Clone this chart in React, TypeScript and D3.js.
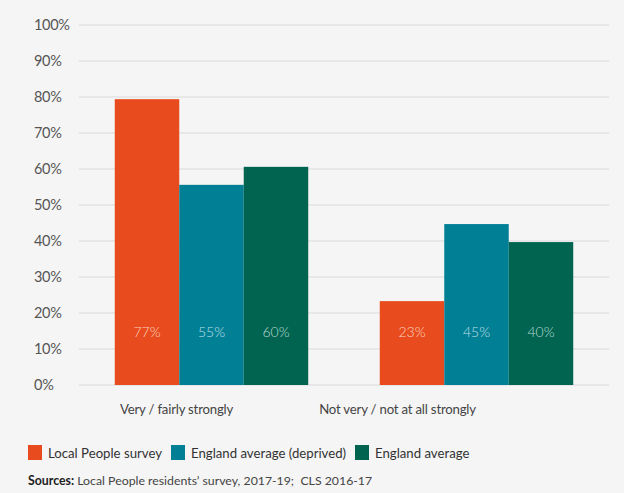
import React from "react";
import * as d3 from "d3";

const categories = ["Very / fairly strongly", "Not very / not at all strongly"];
const seriesNames = ["Local People survey", "England average (deprived)", "England average"];
const localPeople = [79.4, 23.3];
const englandDeprived = [55.6, 44.7];
const englandAverage = [60.6, 39.7];
const localPeopleLabels = ["77%", "23%"];
const englandDeprivedLabels = ["55%", "45%"];
const englandAverageLabels = ["60%", "40%"];
const yTicks = [0, 10, 20, 30, 40, 50, 60, 70, 80, 90, 100];
const sourceLabel = "Sources:";
const sourceText = " Local People residents’ survey, 2017-19;\u00a0 CLS 2016-17";

const colors = ["#e84c1e", "#007f95", "#006450"];
const labelFills = ["rgba(255,225,215,0.9)", "rgba(225,242,246,0.85)", "rgba(220,238,232,0.85)"];

export default function App() {
  const W = 624, H = 493;
  const x0 = 79, x1 = 609;
  const y = d3.scaleLinear().domain([0, 100]).range([385, 25]);
  const xb = d3.scaleBand<string>().domain(categories).range([x0, x1]).paddingInner(0.27).paddingOuter(0.135);
  const xs = d3.scaleBand<string>().domain(seriesNames).range([0, xb.bandwidth()]);
  const series = [localPeople, englandDeprived, englandAverage];
  const labels = [localPeopleLabels, englandDeprivedLabels, englandAverageLabels];
  const catLabelOffset = [-35, -79];
  const font = "Lato, 'Open Sans', sans-serif";

  const legendX = [28, 171, 355];

  return (
    <div style={{ position: "fixed", left: 0, top: 0, width: W, height: H, background: "#f5f5f5" }}>
      <svg width={W} height={H} style={{ display: "block", fontFamily: font }}>
        <rect x={0} y={0} width={W} height={H} fill="#f5f5f5" />
        {yTicks.map((t) => (
          <g key={t}>
            <line x1={x0} x2={x1} y1={y(t)} y2={y(t)} stroke="#e2e2e2" strokeWidth={1.5} />
            <text x={34} y={y(t)} dy="0.35em" fontSize={14.5} fill="#555" letterSpacing={-0.3}>{t}%</text>
          </g>
        ))}
        {categories.map((c, ci) => (
          <g key={c}>
            {series.map((s, si) => {
              const bx = (xb(c) as number) + (xs(seriesNames[si]) as number);
              return (
                <g key={si}>
                  <rect x={bx} y={y(s[ci])} width={xs.bandwidth()} height={y(0) - y(s[ci])} fill={colors[si]} />
                  <text x={bx + xs.bandwidth() / 2} y={332} dy="0.35em" textAnchor="middle" fontSize={14} fontWeight={300} fill={labelFills[si]}>{labels[si][ci]}</text>
                </g>
              );
            })}
            <text x={(xb(c) as number) + xb.bandwidth() / 2 + catLabelOffset[ci]} y={409} dy="0.35em" textAnchor="middle" fontSize={13.2} letterSpacing={-0.2} fill="#444">{c}</text>
          </g>
        ))}
        {seriesNames.map((n, i) => (
          <g key={n}>
            <rect x={legendX[i]} y={445} width={14} height={15} fill={colors[i]} />
            <text x={legendX[i] + 20} y={453} dy="0.35em" fontSize={13.2} fill="#333">{n}</text>
          </g>
        ))}
        <text x={28} y={481} dy="0.35em" fontSize={12.3} fill="#222">
          <tspan fontWeight={700}>{sourceLabel}</tspan>
          <tspan fill="#444">{sourceText}</tspan>
        </text>
      </svg>
    </div>
  );
}
